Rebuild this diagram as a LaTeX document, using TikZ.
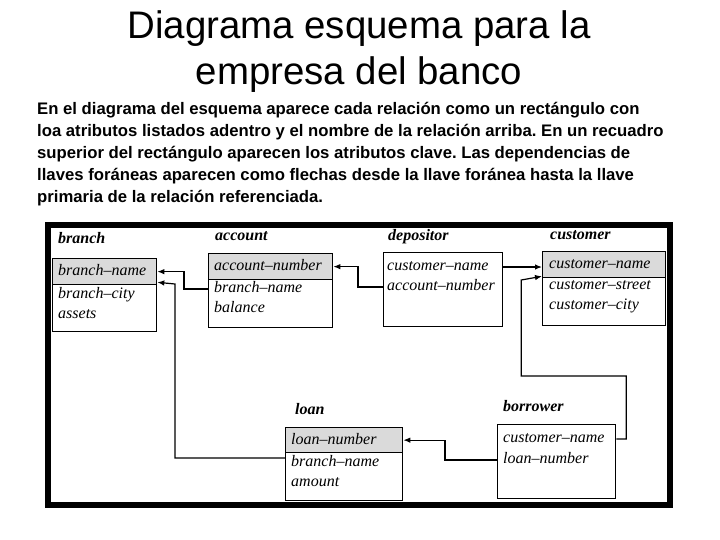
\documentclass[tikz,border=0pt]{standalone}
\usepackage{fontspec}
\newfontfamily\arialfam{Liberation Sans}
\newfontfamily\seriffam{Liberation Serif}
\usetikzlibrary{arrows.meta}
\definecolor{keygray}{RGB}{218,218,218}
\frenchspacing
\begin{document}
\begin{tikzpicture}[x=1pt,y=-1pt,
  relbox/.style={draw, line width=1.3pt, fill=white, anchor=north west, inner sep=0pt},
  keyrow/.style={draw, line width=1.3pt, fill=keygray, anchor=north west, inner sep=0pt},
  attr/.style={anchor=west, inner sep=0pt, text height=10pt, text depth=3pt, font=\seriffam\fontsize{16}{18}\selectfont\itshape},
  relname/.style={anchor=west, inner sep=0pt, text height=10pt, text depth=3pt, font=\seriffam\fontsize{16}{18}\selectfont\bfseries\itshape},
  fk/.style={line width=1.2pt, -{Latex[length=7pt,width=5.5pt]}},
  titletext/.style={anchor=base, inner sep=0pt, font=\arialfam\fontsize{38.4}{46}\selectfont},
  para/.style={anchor=base west, inner sep=0pt, font=\arialfam\bfseries\fontsize{16.7}{20}\selectfont}
]
\useasboundingbox (0,0) rectangle (720,540);

% title
\node[titletext] (t1) at (359,39) {Diagrama esquema para la};
\node[titletext] (t2) at (359,85) {empresa del banco};

% paragraph
\node[para] (p1) at (37,115) {En el diagrama del esquema aparece cada relación como un rectángulo con};
\node[para] (p2) at (37,136.8) {loa atributos listados adentro y el nombre de la relación arriba. En un recuadro};
\node[para] (p3) at (37,158.6) {superior del rectángulo aparecen los atributos clave. Las dependencias de};
\node[para] (p4) at (37,180.4) {llaves foráneas aparecen como flechas desde la llave foránea hasta la llave};
\node[para] (p5) at (37,202.2) {primaria de la relación referenciada.};

% frame
\draw[line width=6pt] (48,225) rectangle (670,505);

% branch
\node[relname] (branch-lbl) at (58,240) {branch};
\node[relbox, minimum width=104pt, minimum height=73pt] (branch) at (52,258) {};
\node[keyrow, minimum width=104pt, minimum height=26pt] (branch-key) at (52,258) {};
\node[attr] (branch-bn) at (58,272) {branch–name};
\node[attr] (branch-bc) at (58,295) {branch–city};
\node[attr] (branch-as) at (58,315) {assets};

% account
\node[relname] (account-lbl) at (215,237) {account};
\node[relbox, minimum width=124pt, minimum height=74pt] (account) at (208,253) {};
\node[keyrow, minimum width=124pt, minimum height=26pt] (account-key) at (208,253) {};
\node[attr] (account-an) at (214,267) {account–number};
\node[attr] (account-bn) at (214,289) {branch–name};
\node[attr] (account-ba) at (214,309) {balance};

% depositor
\node[relname] (depositor-lbl) at (388,237) {depositor};
\node[relbox, minimum width=119pt, minimum height=74pt] (depositor) at (383,252) {};
\node[attr] (depositor-cn) at (387,267) {customer–name};
\node[attr] (depositor-an) at (387,287) {account–number};

% customer
\node[relname] (customer-lbl) at (550,236) {customer};
\node[relbox, minimum width=123pt, minimum height=74pt] (customer) at (542,251) {};
\node[keyrow, minimum width=123pt, minimum height=26pt] (customer-key) at (542,251) {};
\node[attr] (customer-cn) at (549,265) {customer–name};
\node[attr] (customer-cs) at (549,286) {customer–street};
\node[attr] (customer-cc) at (549,306) {customer–city};

% loan
\node[relname] (loan-lbl) at (295,411) {loan};
\node[relbox, minimum width=117pt, minimum height=73pt] (loan) at (285,427) {};
\node[keyrow, minimum width=117pt, minimum height=25pt] (loan-key) at (285,427) {};
\node[attr] (loan-ln) at (291,441) {loan–number};
\node[attr] (loan-bn) at (291,463) {branch–name};
\node[attr] (loan-am) at (291,483) {amount};

% borrower
\node[relname] (borrower-lbl) at (503,408) {borrower};
\node[relbox, minimum width=118pt, minimum height=74pt] (borrower) at (497,424) {};
\node[attr] (borrower-cn) at (503,439) {customer–name};
\node[attr] (borrower-ln) at (503,460) {loan–number};

% foreign keys
\draw[fk] (account.west |- account-bn) -- ++(-24,0) |- (branch-key.east);
\draw[fk] ([yshift=5pt]loan.west |- loan-bn) -- ++(-110,0) -- ++(0,-174) -- ([yshift=3pt]branch-key.south east);
\draw[fk] (depositor.west |- depositor-an) -- ++(-25,0) |- (account-key.east);
\draw[fk] (depositor.east |- depositor-cn) -- (customer-key.west |- depositor-cn);
\draw[fk] (borrower.east |- borrower-cn) -- ++(10,0) -- ++(0,-63) -- ++(-105,0) -- ++(0,-96) -- ([yshift=2pt]customer-key.south west);
\draw[fk] (borrower.west |- borrower-ln) -- ++(-52,0) |- (loan-key.east);
\end{tikzpicture}
\end{document}
